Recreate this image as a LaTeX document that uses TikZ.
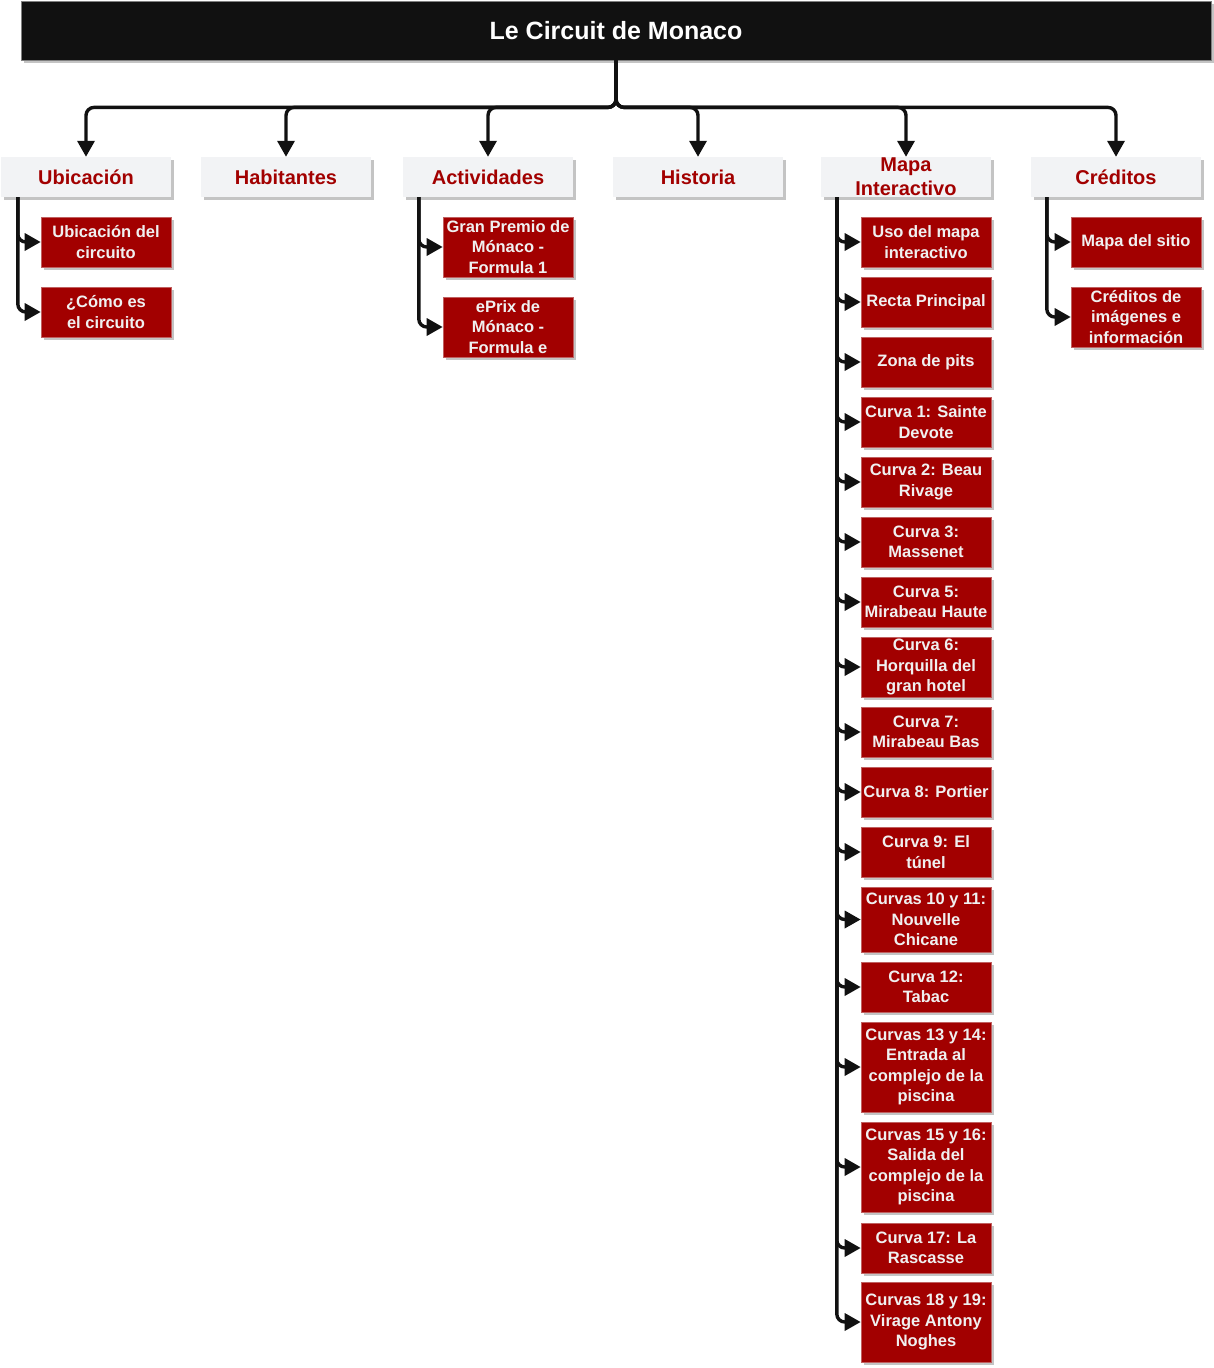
\documentclass[tikz,border=0pt]{standalone}
\usepackage{fontspec}
\setmainfont{Liberation Sans}
\usepackage{xcolor}
\usetikzlibrary{positioning, arrows.meta, shadows}

\definecolor{inkblack}{HTML}{111111}
\definecolor{paleback}{HTML}{F2F3F5}
\definecolor{monacored}{HTML}{A20000}
\definecolor{redline}{HTML}{C06060}
\definecolor{shadowgray}{HTML}{C4C4C4}

\begin{document}
\begin{tikzpicture}[
  x=1pt, y=-1pt,
  every node/.style={font=\bfseries},
  boxshadow/.style={drop shadow={shadow xshift=3pt, shadow yshift=-3pt, fill=shadowgray, opacity=1}},
  titlebox/.style={
    rectangle, fill=inkblack, draw=gray, line width=0.8pt,
    minimum width=1190pt, minimum height=59pt, inner sep=0pt,
    text=white, font=\bfseries\fontsize{25}{29}\selectfont, boxshadow,
  },
  section/.style={
    rectangle, fill=paleback, minimum width=170pt, minimum height=40pt,
    inner sep=0pt, align=center, text=monacored,
    font=\bfseries\fontsize{20}{24}\selectfont, boxshadow,
  },
  leaf/.style={
    rectangle, fill=monacored, draw=redline, line width=0.6pt,
    minimum width=130pt, minimum height=50pt, inner sep=0pt, align=center,
    text=white!94!black, font=\bfseries\fontsize{16.5}{20.5}\selectfont, boxshadow,
  },
  conn/.style={draw=inkblack, line width=3.4pt, rounded corners=8pt,
    -{Triangle[length=16pt,width=17pt]}},
]
\useasboundingbox (0,0) rectangle (1214,1368);

% ---- Title ----
\node[titlebox] (title) at (616, 30.5) {Le Circuit de Monaco};

% ---- Sections ----
\node[section] (ubi)  at (86, 177)   {Ubicación};
\node[section] (hab)  at (286, 177)  {Habitantes};
\node[section] (act)  at (488, 177)  {Actividades};
\node[section] (his)  at (698, 177)  {Historia};
\node[section] (mapa) at (906, 177)  {Mapa\\Interactivo};
\node[section] (cred) at (1116, 177) {Créditos};

\foreach \sec in {ubi, hab, act, his, mapa, cred}
  \draw[conn] (title.south) -- ++(0,47) -| (\sec.north);

% ---- Ubicación ----
\node[leaf] (ubiA) at (106, 242) {Ubicación del\\circuito};
\node[leaf] (ubiB) at (106, 312) {¿Cómo es\\el circuito};

% ---- Actividades ----
\node[leaf, minimum height=60pt] (actA) at (508, 247) {Gran Premio de\\Mónaco -\\Formula 1};
\node[leaf, minimum height=60pt] (actB) at (508, 327) {ePrix de\\Mónaco -\\Formula e};

% ---- Créditos ----
\node[leaf] (credA) at (1136, 242) {Mapa del sitio};
\node[leaf, minimum height=60pt] (credB) at (1136, 317) {Créditos de\\imágenes e\\información};

% ---- Mapa Interactivo ----
\node[leaf] (m1)  at (926, 242)  {Uso del mapa\\interactivo};
\node[leaf] (m2)  at (926, 302)  {Recta Principal};
\node[leaf] (m3)  at (926, 362)  {Zona de pits};
\node[leaf] (m4)  at (926, 422)  {Curva 1: Sainte\\Devote};
\node[leaf] (m5)  at (926, 482)  {Curva 2: Beau\\Rivage};
\node[leaf] (m6)  at (926, 542)  {Curva 3:\\Massenet};
\node[leaf] (m7)  at (926, 602)  {Curva 5:\\Mirabeau Haute};
\node[leaf, minimum height=60pt] (m8)  at (926, 667)  {Curva 6:\\Horquilla del\\gran hotel};
\node[leaf] (m9)  at (926, 732)  {Curva 7:\\Mirabeau Bas};
\node[leaf] (m10) at (926, 792)  {Curva 8: Portier};
\node[leaf] (m11) at (926, 852)  {Curva 9: El\\túnel};
\node[leaf, minimum height=65pt] (m12) at (926, 919.5) {Curvas 10 y 11:\\Nouvelle\\Chicane};
\node[leaf] (m13) at (926, 987)  {Curva 12:\\Tabac};
\node[leaf, minimum height=90pt] (m14) at (926, 1067) {Curvas 13 y 14:\\Entrada al\\complejo de la\\piscina};
\node[leaf, minimum height=90pt] (m15) at (926, 1167) {Curvas 15 y 16:\\Salida del\\complejo de la\\piscina};
\node[leaf] (m16) at (926, 1248) {Curva 17: La\\Rascasse};
\node[leaf, minimum height=80pt] (m17) at (926, 1322) {Curvas 18 y 19:\\Virage Antony\\Noghes};

% ---- Child connectors ----
\foreach \kid in {ubiA, ubiB}
  \draw[conn] ([xshift=17pt]ubi.south west) |- (\kid.west);
\foreach \kid in {actA, actB}
  \draw[conn] ([xshift=16pt]act.south west) |- (\kid.west);
\foreach \kid in {credA, credB}
  \draw[conn] ([xshift=16pt]cred.south west) |- (\kid.west);
\foreach \i in {1,...,17}
  \draw[conn] ([xshift=16pt]mapa.south west) |- (m\i.west);

\end{tikzpicture}
\end{document}
